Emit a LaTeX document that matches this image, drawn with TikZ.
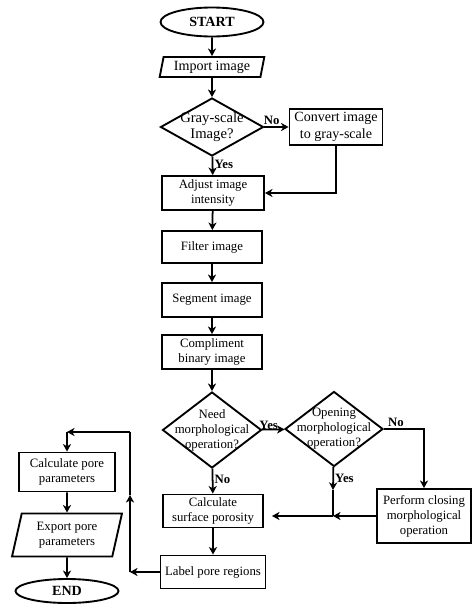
\documentclass[tikz,border=0pt]{standalone}
\usepackage{fontspec}
\setmainfont{Liberation Serif}
\usetikzlibrary{shapes.geometric, arrows.meta}

\tikzset{
	startstop/.style={ellipse, draw, line width=1.6pt, inner sep=0pt, font=\fontsize{12}{14}\selectfont\bfseries},
	io/.style={trapezium, trapezium left angle=76, trapezium right angle=104, trapezium stretches=true, draw, line width=1.6pt, inner sep=0pt, align=center},
	process/.style={rectangle, draw, line width=1.6pt, inner sep=0pt, align=center},
	decision/.style={diamond, draw, line width=1.6pt, inner sep=0pt},
	bigtext/.style={font=\fontsize{12}{14}\selectfont},
	arrow/.style={line width=1.5pt, -{Stealth[length=6.5pt,width=7pt,inset=2pt]}},
	line/.style={line width=1.5pt},
	tag/.style={font=\fontsize{10.9}{12.8}\selectfont\bfseries, inner sep=1pt},
}

\begin{document}
\begin{tikzpicture}[x=0.03cm, y=-0.03cm, font=\fontsize{10.9}{12.8}\selectfont]
	\useasboundingbox (0,0) rectangle (474,611);

	% main column
	\node[startstop, minimum width=3.09cm, minimum height=0.87cm] (start) at (212,22) {START};
	\node[io, bigtext, minimum width=3.15cm, minimum height=0.6cm] (import) at (212,67) {Import image};
	\node[decision, minimum width=3.09cm, minimum height=1.74cm,
		label={[align=center, font=\fontsize{12.5}{14}\selectfont]center:Gray-scale\\Image?}] (gray) at (212,127) {};
	\node[process, bigtext, minimum width=2.79cm, minimum height=1.08cm] (convert) at (336,127) {Convert image\\to gray-scale};
	\node[process, minimum width=3.06cm, minimum height=1.02cm] (adjust) at (213,193) {Adjust image\\intensity};
	\node[process, minimum width=3cm, minimum height=0.96cm] (filter) at (212,247) {Filter image};
	\node[process, minimum width=3cm, minimum height=1.02cm] (segment) at (212,300) {Segment image};
	\node[process, minimum width=3cm, minimum height=1.02cm] (compliment) at (212,352) {Compliment\\binary image};
	\node[decision, minimum width=2.97cm, minimum height=2.28cm,
		label={[align=center]center:Need\\morphological\\operation?}] (need) at (212,430) {};
	\node[decision, minimum width=2.94cm, minimum height=2.25cm,
		label={[align=center]center:Opening\\morphological\\operation?}] (opening) at (334,429) {};
	\node[process, minimum width=2.82cm, minimum height=1.62cm] (closing) at (424,516) {Perform closing\\morphological\\operation};
	\node[process, minimum width=3cm, minimum height=0.99cm] (calc) at (213,511) {Calculate\\surface porosity};
	\node[process, minimum width=3.15cm, minimum height=0.99cm] (label) at (213,572) {Label pore regions};

	% left column
	\node[process, minimum width=2.88cm, minimum height=1.17cm] (calcpore) at (67,472) {Calculate pore\\parameters};
	\node[io, minimum width=3.3cm, minimum height=1.29cm] (export) at (67,535) {Export pore\\parameters};
	\node[startstop, minimum width=3.09cm, minimum height=0.72cm] (end) at (67,591) {END};

	% free ends of the connectors
	\coordinate (yesend) at (333,490);
	\coordinate (merge) at (333,516);
	\coordinate (calcin) at (272,516);
	\coordinate (loopa) at (130,572);
	\coordinate (loopm) at (130,495);
	\coordinate (loopb) at (130,432);
	\coordinate (loopc) at (67,432);

	\draw[arrow] (start) -- (import);
	\draw[arrow] (import) -- (gray);
	\draw[arrow] (gray) -- node[tag, above, pos=0.3] {No} (convert);
	\draw[arrow] (gray) -- node[tag, right, pos=0.4] {Yes} (adjust);
	\draw[arrow] (convert.south) |- (adjust.east);
	\draw[arrow] (adjust) -- (filter);
	\draw[arrow] (filter) -- (segment);
	\draw[arrow] (segment) -- (compliment);
	\draw[arrow] (compliment) -- (need);
	\draw[arrow] (need) -- node[tag, above=-2pt, pos=0.3] {Yes} (opening);
	\draw[arrow] (need) -- node[tag, right, pos=0.45] {No} (calc);
	\draw[arrow] (opening.east) -| node[tag, above, pos=0.15] {No} (closing.north);
	\draw[arrow] (opening) -- node[tag, right, pos=0.5] {Yes} (yesend);
	\draw[line] (yesend) -- (merge);
	\draw[arrow] (closing.west) -- (merge);
	\draw[arrow] (merge) -- (calcin);
	\draw[arrow] (calc) -- (label);
	\draw[arrow] (label.west) -- (loopa);
	\draw[arrow] (loopa) -- (loopm);
	\draw[line] (loopm) -- (loopb);
	\draw[arrow] (loopb) -- (loopc);
	\draw[arrow] (loopc) -- (calcpore);
	\draw[arrow] (calcpore) -- (export);
	\draw[arrow] (export) -- (end);
\end{tikzpicture}
\end{document}
